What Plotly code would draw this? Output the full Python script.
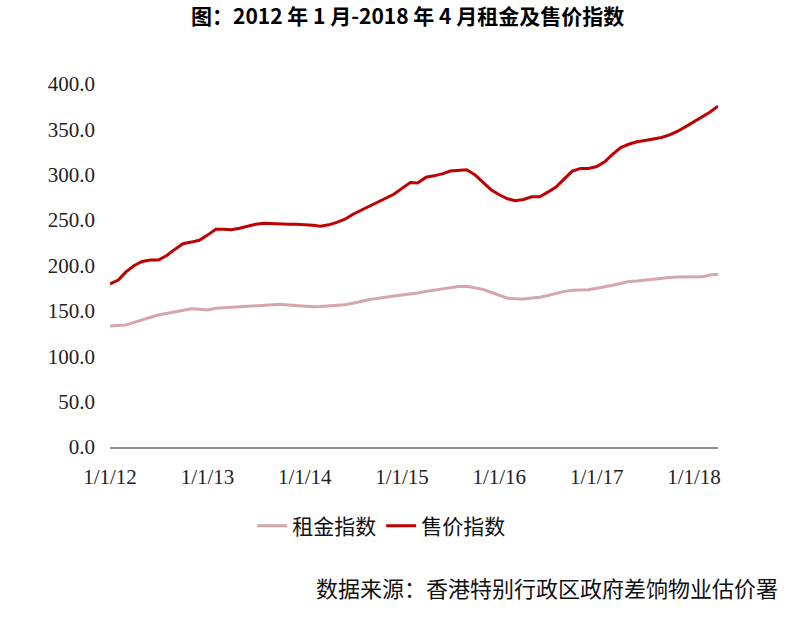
import plotly.graph_objects as go
import pandas as pd

months = pd.date_range("2012-01-01", "2018-04-01", freq="MS").strftime("%Y-%m-%d").tolist()

rent_index = [
    133.3, 133.5, 134.5, 137.3, 140.3, 143.0, 145.5, 147.3, 149.0, 150.8, 152.3, 151.8,
    151.0, 152.8, 153.3, 153.8, 154.3, 155.0, 155.6, 156.3, 156.8, 157.2, 156.6, 155.7,
    155.0, 154.5, 154.7, 155.3, 156.0, 156.8, 158.5, 160.5, 162.6, 163.6, 165.2, 166.5,
    167.5, 168.3, 169.6, 171.5, 173.0, 174.3, 175.5, 176.8, 177.2, 175.8, 173.7, 170.5,
    167.5, 164.0, 163.3, 163.2, 164.2, 165.0, 167.0, 169.5, 171.5, 172.6, 173.0, 173.4,
    175.0, 176.5, 178.3, 180.2, 182.3, 183.0, 184.0, 185.4, 186.3, 186.8, 187.2, 187.3,
    187.3, 187.5, 189.5, 190.3,
]

price_index = [
    179.6, 184.0, 193.0, 200.0, 204.5, 206.0, 206.0, 211.0, 218.0, 224.0, 225.8, 227.8,
    233.5, 240.0, 240.0, 239.5, 241.0, 243.5, 245.5, 246.5, 246.0, 245.5, 245.4, 245.4,
    245.0, 244.3, 243.2, 244.8, 247.5, 251.0, 256.5, 261.0, 265.5, 269.5, 274.0, 278.5,
    285.0, 291.5, 291.0, 297.3, 298.8, 301.0, 304.1, 305.2, 305.5, 300.0, 291.5, 283.5,
    278.0, 273.5, 271.3, 272.8, 275.8, 275.8, 280.8, 286.5, 295.5, 304.0, 307.0, 307.0,
    309.0, 314.5, 322.5, 330.0, 333.6, 336.3, 337.8, 339.3, 341.0, 344.0, 348.0, 353.0,
    358.5, 364.3, 368.8, 375.5,
]

x_ticks = ["2012-01-01", "2013-01-01", "2014-01-01", "2015-01-01",
           "2016-01-01", "2017-01-01", "2018-01-01"]
x_tick_labels = ["1/1/12", "1/1/13", "1/1/14", "1/1/15", "1/1/16", "1/1/17", "1/1/18"]
y_ticks = [0, 50, 100, 150, 200, 250, 300, 350, 400]

title_text = "图：2012 年 1 月-2018 年 4 月租金及售价指数"
source_text = "数据来源：香港特别行政区政府差饷物业估价署"

CJK = "Noto Sans CJK SC"
SERIF = "Liberation Serif"

fig = go.Figure()
fig.add_trace(go.Scatter(
    x=months, y=rent_index, mode="lines", name="租金指数",
    line=dict(color="#D5A6AB", width=3),
))
fig.add_trace(go.Scatter(
    x=months, y=price_index, mode="lines", name="售价指数",
    line=dict(color="#C00000", width=3),
))

fig.update_layout(
    width=797, height=620,
    margin=dict(l=110, r=79, t=84, b=173),
    paper_bgcolor="white", plot_bgcolor="white",
    showlegend=True,
    legend=dict(
        orientation="h", x=0.446, xanchor="center", y=-0.2176, yanchor="middle",
        font=dict(family=CJK, size=21, color="#111"),
        itemwidth=30, tracegroupgap=0,
    ),
    xaxis=dict(
        type="date",
        range=[months[0], months[-1]],
        tickvals=x_ticks, ticktext=x_tick_labels,
        showgrid=False, zeroline=False,
        showline=True, linecolor="#8c8c8c", linewidth=1.5,
        ticks="", ticklabelstandoff=10,
        tickfont=dict(family=SERIF, size=21, color="#222"),
    ),
    yaxis=dict(
        range=[0, 400],
        tickvals=y_ticks, tickformat=".1f",
        showgrid=False, zeroline=False, showline=False,
        ticks="", ticklabelstandoff=14,
        tickfont=dict(family=SERIF, size=21, color="#222"),
    ),
    annotations=[
        dict(text="<b>" + title_text + "</b>", xref="paper", yref="paper",
             x=0.49, y=1.19, xanchor="center", yanchor="middle", showarrow=False,
             font=dict(family=CJK, size=21, color="#000")),
        dict(text=source_text, xref="paper", yref="paper",
             x=1.102, y=-0.386, xanchor="right", yanchor="middle", showarrow=False,
             font=dict(family=CJK, size=22, color="#111")),
    ],
)

fig.write_html("out.html")
